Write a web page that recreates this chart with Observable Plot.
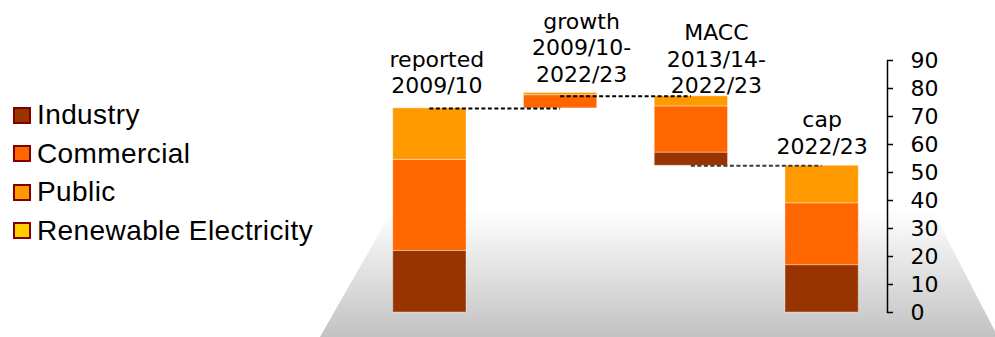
<!DOCTYPE html>
<html>
<head>
<meta charset="utf-8">
<script src="https://cdn.jsdelivr.net/npm/d3@7"></script>
<script src="https://cdn.jsdelivr.net/npm/@observablehq/plot@0.6"></script>
<style>
  body { margin: 0; background: #fff; }
  #wrap { position: relative; width: 995px; height: 337px; overflow: hidden; background: #fff; }
  #floor { position: absolute; left: 0; top: 0; width: 995px; height: 337px;
    background: linear-gradient(to bottom, #ffffff 0px, #ffffff 210px, #c2c2c2 337px);
    clip-path: polygon(398px 200px, 927px 200px, 998px 337px, 320px 337px); }
  #chart { position: absolute; left: 0; top: 0; }
  #chart svg { display: block; }
  #legend { position: absolute; left: 13px; top: 96px; font-family: "Liberation Sans", Arial, sans-serif; font-size: 28px; letter-spacing: 0.4px; color: #000; }
  .row { display: flex; align-items: center; height: 38.5px; white-space: nowrap; }
  .sw { width: 14px; height: 13px; border: 2px solid #800000; margin-right: 6px; box-sizing: content-box; }
</style>
</head>
<body>
<div id="wrap">
  <div id="floor"></div>
  <div id="chart"></div>
  <div id="legend"></div>
</div>
<script>
// ---- data ----
const stages = ["reported\n2009/10", "growth\n2009/10-\n2022/23", "MACC\n2013/14-\n2022/23", "cap\n2022/23"];
const stageKind = ["total", "increase", "decrease", "total"];
const sectors = ["Industry", "Commercial", "Public", "Renewable Electricity"];
const sectorColors = ["#993300", "#FF6600", "#FF9900", "#FFCC00"];
const industry   = [22.0, 0.0, 4.7, 16.9];
const commercial = [32.5, 4.7, 16.5, 22.1];
const publicSec  = [18.4, 0.8, 3.6, 13.4];
const renewable  = [0, 0, 0, 0];
const yTicks = [0, 10, 20, 30, 40, 50, 60, 70, 80, 90];

// ---- layout constants ----
const halfW = 0.28;
const labelGap = [15, 11, 3, 12];
const labelShift = [7, 21, 25, 0];

// ---- build waterfall ----
const series = [industry, commercial, publicSec, renewable];
const totals = stages.map((_, i) => series.reduce((s, a) => s + a[i], 0));
const bases = stages.map((_, i) => {
  if (stageKind[i] === "total") return 0;
  if (stageKind[i] === "increase") return totals[i - 1];
  return totals[i + 1]; // decrease hangs down to the following total
});
const tops = stages.map((_, i) => bases[i] + totals[i]);

const rows = [];
stages.forEach((st, i) => {
  let acc = bases[i];
  sectors.forEach((sec, k) => {
    const v = series[k][i];
    if (v > 0) rows.push({i, sector: sec, y1: acc, y2: acc + v});
    acc += v;
  });
});

const connectors = [
  {from: 0, to: 1, y: totals[0], c: "#000"},
  {from: 1, to: 2, y: tops[2], c: "#000"},
  {from: 2, to: 3, y: totals[3], c: "#3a3a3a"}
];

const labelMarks = stages.map((s, i) =>
  Plot.text([{i, y: tops[i], t: s}], {
    x: "i", y: "y", text: "t", dx: labelShift[i], dy: -labelGap[i], lineAnchor: "bottom",
    lineHeight: 1.21, fontSize: 22, fill: "#000"
  })
);

const chart = Plot.plot({
  width: 995,
  height: 337,
  marginLeft: 364,
  marginRight: 108,
  marginTop: 60,
  marginBottom: 25,
  style: {fontFamily: "DejaVu Sans, Verdana, sans-serif", fontSize: "22px", background: "transparent", color: "#000", overflow: "visible"},
  x: {domain: [-0.5, 3.5], axis: null},
  y: {domain: [0, 90]},
  color: {domain: sectors, range: sectorColors},
  marks: [
    Plot.rect(rows, {x1: d => d.i - halfW, x2: d => d.i + halfW, y1: "y1", y2: "y2", fill: "sector", stroke: "#fff", strokeOpacity: 0.35, strokeWidth: 1}),
    Plot.ruleY(connectors, {x1: "from", x2: "to", y: "y", stroke: d => d.c, strokeWidth: 2, strokeDasharray: "4,2.5"}),
    ...labelMarks,
    Plot.frame({anchor: "right", stroke: "#000", strokeWidth: 1.5}),
    Plot.axisY(yTicks, {anchor: "right", tickSize: 5, tickPadding: 18, fontSize: 22, stroke: "#000", strokeWidth: 1.5})
  ]
});
document.getElementById("chart").appendChild(chart);

// ---- legend ----
const legend = document.getElementById("legend");
sectors.forEach((s, k) => {
  const row = document.createElement("div");
  row.className = "row";
  const sw = document.createElement("div");
  sw.className = "sw";
  sw.style.background = sectorColors[k];
  const tx = document.createElement("span");
  tx.textContent = s;
  row.appendChild(sw);
  row.appendChild(tx);
  legend.appendChild(row);
});
</script>
</body>
</html>
